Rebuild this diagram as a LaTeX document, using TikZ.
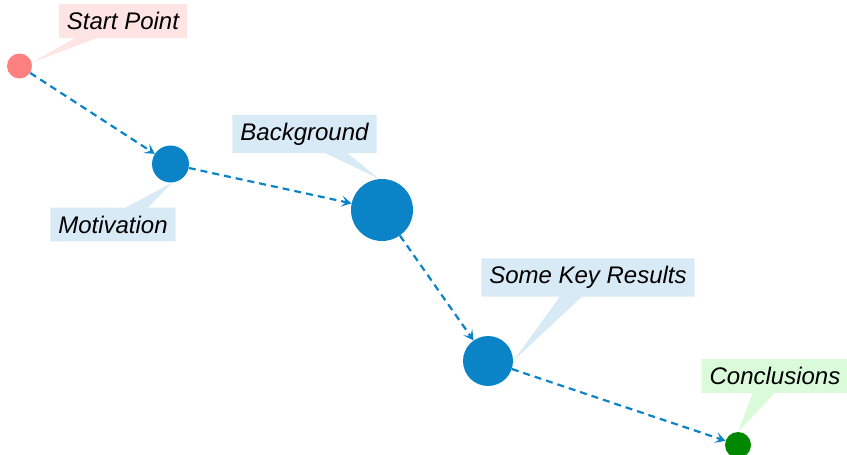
\documentclass[tikz,border=0pt]{standalone}
\usepackage{fontspec}
\setmainfont{Liberation Sans}
\usetikzlibrary{shapes.callouts,arrows.meta,backgrounds}

\definecolor{dotblue}{RGB}{11,132,199}
\definecolor{dotred}{RGB}{255,128,128}
\definecolor{dotgreen}{RGB}{0,136,0}
\definecolor{tagblue}{RGB}{216,234,245}
\definecolor{tagred}{RGB}{255,228,228}
\definecolor{taggreen}{RGB}{217,251,217}

\tikzset{
  dot/.style={circle, inner sep=0pt, fill=#1},
  tag/.style={rectangle callout, fill=#1, inner sep=8pt,
    callout pointer width=22pt,
    font=\fontsize{24}{28}\selectfont\itshape},
  flow/.style={draw=dotblue, line width=2.2pt, dash pattern=on 7pt off 5pt,
    -{Stealth[length=10pt,width=11pt,inset=4.5pt]}}
}

\begin{document}
\begin{tikzpicture}[x=1pt, y=-1pt]
  \useasboundingbox (0,0) rectangle (847,455);

  % milestones
  \node[dot=dotred,  minimum size=25pt] (s) at (19.5,66) {};
  \node[dot=dotblue, minimum size=37pt] (m) at (170.5,164) {};
  \node[dot=dotblue, minimum size=62pt] (b) at (382,210) {};
  \node[dot=dotblue, minimum size=50pt] (k) at (488,361) {};
  \node[dot=dotgreen,minimum size=26pt] (c) at (738,445) {};

  \begin{scope}[on background layer]
    % labels
    \node[tag=tagred,   callout absolute pointer={(s.15)}]    (ts) at (123,21)    {Start Point};
    \node[tag=tagblue,  callout absolute pointer={(m.-85)}]   (tm) at (113,224.5) {Motivation};
    \node[tag=tagblue,  callout absolute pointer={(b.95)}]    (tb) at (304.5,134) {Background};
    \node[tag=tagblue,  callout absolute pointer={(k.east)}]  (tk) at (588,277.5) {Some Key Results};
    \node[tag=taggreen, callout absolute pointer={(c.north)}] (tc) at (775,376)   {Conclusions};

    % path between milestones
    \draw[flow] (s) -- (m);
    \draw[flow] (m) -- (b);
    \draw[flow] (b) -- (k);
    \draw[flow] (k) -- (c);
  \end{scope}
\end{tikzpicture}
\end{document}
